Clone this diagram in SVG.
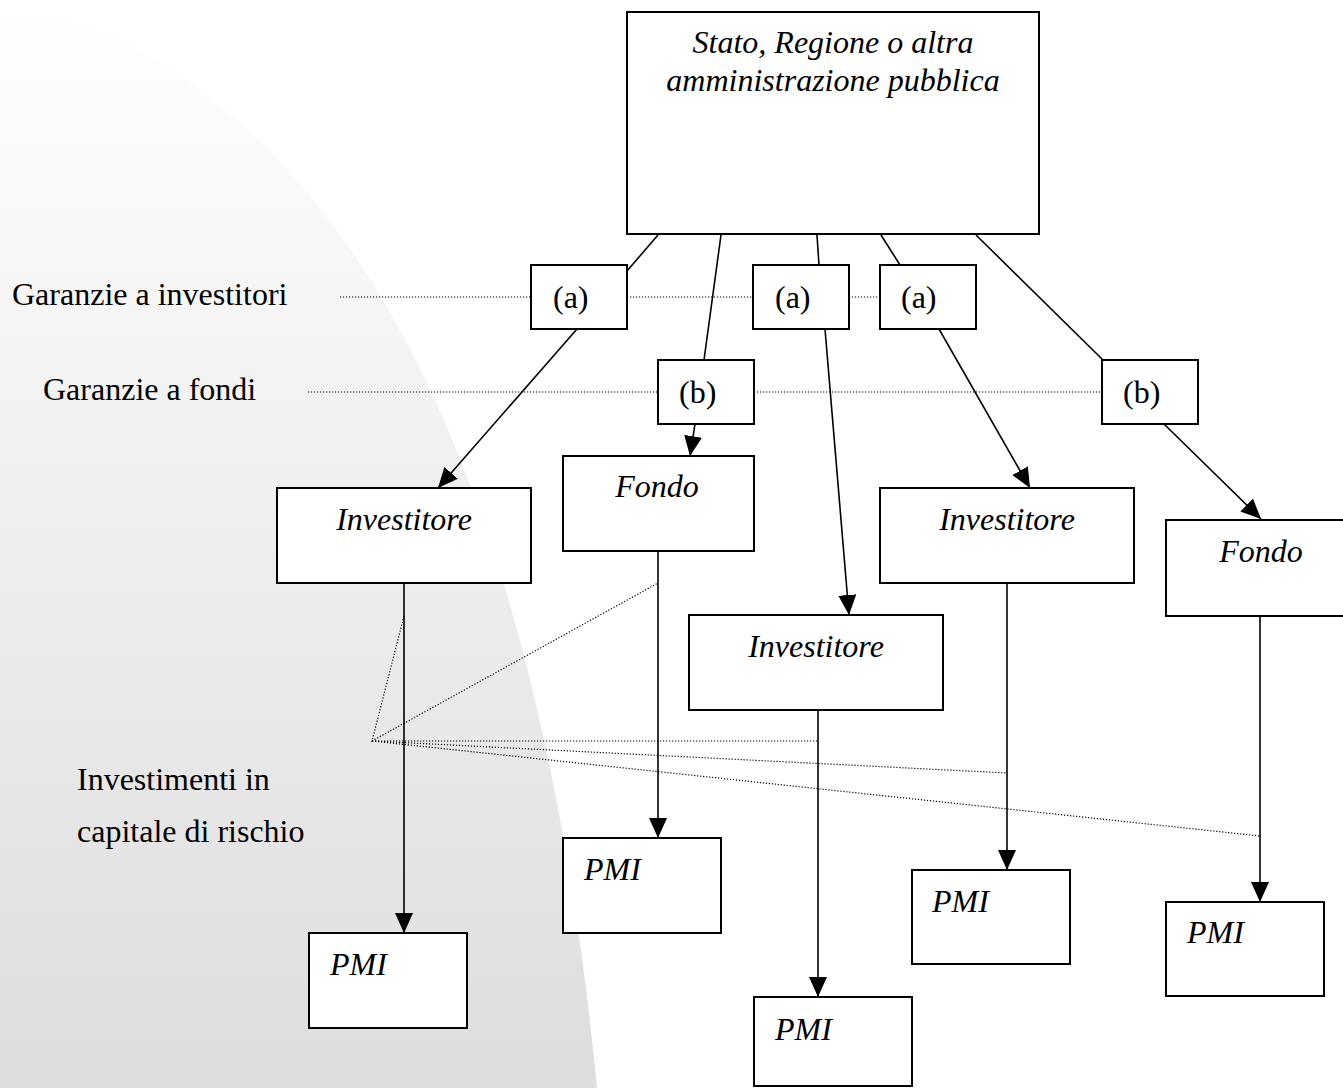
<svg xmlns="http://www.w3.org/2000/svg" width="1343" height="1088" viewBox="0 0 1343 1088">
<defs>
<linearGradient id="bg" x1="0" y1="0" x2="0" y2="1088" gradientUnits="userSpaceOnUse">
<stop offset="0" stop-color="#ffffff"/>
<stop offset="1" stop-color="#dddddd"/>
</linearGradient>
<marker id="arr" markerUnits="userSpaceOnUse" markerWidth="20" markerHeight="18" refX="20" refY="9" orient="auto" viewBox="0 0 20 18">
<path d="M0,0 L20,9 L0,18 Z" fill="#000"/>
</marker>
<style>
.box{fill:#fff;stroke:#000;stroke-width:2}
.ln{fill:none;stroke:#000;stroke-width:1.6}
.ar{fill:none;stroke:#000;stroke-width:1.6;marker-end:url(#arr)}
.dot{fill:none;stroke:#000;stroke-width:1.2;stroke-dasharray:1.2 1.8}
text{font-family:"Liberation Serif","Times New Roman",serif;font-size:32px;fill:#000}
.ti{font-style:italic}
.mid{text-anchor:middle}
</style>
</defs>
<rect x="0" y="0" width="1343" height="1088" fill="#fff"/>
<path d="M19,0 C403,108 549,591 597,1088 L0,1088 L0,0 Z" fill="url(#bg)"/>

<g id="labels">
<text x="12" y="305">Garanzie a investitori</text>
<text x="43" y="400">Garanzie a fondi</text>
<text x="77" y="790">Investimenti in</text>
<text x="77" y="842">capitale di rischio</text>
</g>

<g id="connectors">
<line class="dot" x1="340" y1="297" x2="531" y2="297"/>
<line class="dot" x1="627" y1="297" x2="753" y2="297"/>
<line class="dot" x1="849" y1="297" x2="880" y2="297"/>
<line class="dot" x1="308" y1="392" x2="658" y2="392"/>
<line class="dot" x1="754" y1="392" x2="1102" y2="392"/>
<polyline class="dot" points="404,616 372,741 658,583"/>
<line class="dot" x1="372" y1="741" x2="818" y2="741"/>
<line class="dot" x1="372" y1="741" x2="1007" y2="773"/>
<line class="dot" x1="372" y1="741" x2="1260" y2="836"/>

<line class="ln" x1="658" y1="235" x2="627" y2="271"/>
<line class="ar" x1="577" y1="329" x2="438" y2="488"/>
<line class="ln" x1="721" y1="235" x2="704" y2="360"/>
<line class="ar" x1="695" y1="424" x2="690" y2="456"/>
<line class="ln" x1="817" y1="235" x2="819" y2="265"/>
<line class="ar" x1="825" y1="329" x2="849" y2="615"/>
<line class="ln" x1="881" y1="235" x2="900" y2="265"/>
<line class="ar" x1="939" y1="329" x2="1030" y2="488"/>
<line class="ln" x1="976" y1="235" x2="1103" y2="360"/>
<line class="ar" x1="1164" y1="424" x2="1261" y2="519"/>

<line class="ar" x1="404" y1="583" x2="404" y2="933"/>
<line class="ar" x1="658" y1="551" x2="658" y2="838"/>
<line class="ar" x1="818" y1="710" x2="818" y2="997"/>
<line class="ar" x1="1007" y1="583" x2="1007" y2="870"/>
<line class="ar" x1="1260" y1="616" x2="1260" y2="902"/>
</g>

<g id="stato">
<rect class="box" x="627" y="12" width="412" height="222"/>
<text class="ti mid" x="833" y="53">Stato, Regione o altra</text>
<text class="ti mid" x="833" y="91">amministrazione pubblica</text>
</g>

<g id="a1"><rect class="box" x="531" y="265" width="96" height="64"/><text x="553" y="308">(a)</text></g>
<g id="a2"><rect class="box" x="753" y="265" width="96" height="64"/><text x="775" y="308">(a)</text></g>
<g id="a3"><rect class="box" x="880" y="265" width="96" height="64"/><text x="901" y="308">(a)</text></g>
<g id="b1"><rect class="box" x="658" y="360" width="96" height="64"/><text x="679" y="403">(b)</text></g>
<g id="b2"><rect class="box" x="1102" y="360" width="96" height="64"/><text x="1123" y="403">(b)</text></g>

<g id="investitore1"><rect class="box" x="277" y="488" width="254" height="95"/><text class="ti mid" x="404" y="530">Investitore</text></g>
<g id="fondo1"><rect class="box" x="563" y="456" width="191" height="95"/><text class="ti mid" x="657" y="497">Fondo</text></g>
<g id="investitore2"><rect class="box" x="689" y="615" width="254" height="95"/><text class="ti mid" x="816" y="657">Investitore</text></g>
<g id="investitore3"><rect class="box" x="880" y="488" width="254" height="95"/><text class="ti mid" x="1007" y="530">Investitore</text></g>
<g id="fondo2"><rect class="box" x="1166" y="520" width="200" height="96"/><text class="ti mid" x="1261" y="562">Fondo</text></g>

<g id="pmi1"><rect class="box" x="309" y="933" width="158" height="95"/><text class="ti" x="330" y="975">PMI</text></g>
<g id="pmi2"><rect class="box" x="563" y="838" width="158" height="95"/><text class="ti" x="584" y="880">PMI</text></g>
<g id="pmi3"><rect class="box" x="912" y="870" width="158" height="94"/><text class="ti" x="932" y="912">PMI</text></g>
<g id="pmi4"><rect class="box" x="1166" y="902" width="158" height="94"/><text class="ti" x="1187" y="943">PMI</text></g>
<g id="pmi5"><rect class="box" x="754" y="997" width="158" height="89"/><text class="ti" x="775" y="1040">PMI</text></g>
</svg>
